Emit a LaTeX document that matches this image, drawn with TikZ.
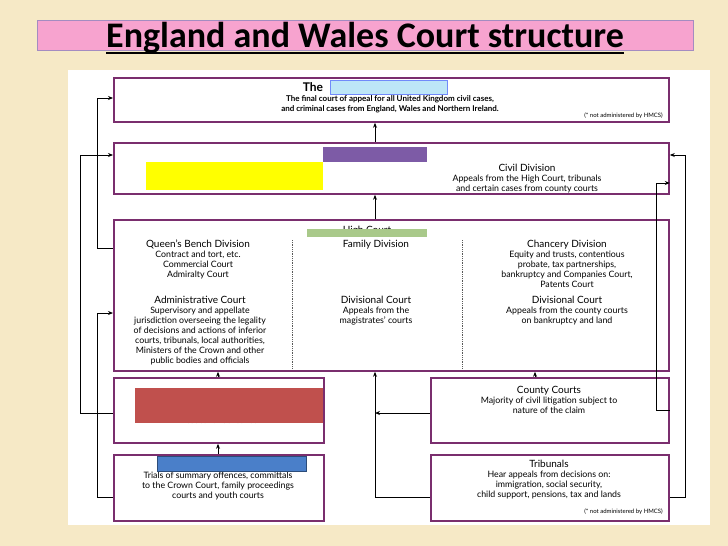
\documentclass[tikz,border=0pt]{standalone}
\usepackage{fontspec}
\setmainfont{Lato}
\newfontfamily\titlefont{Carlito}
\usetikzlibrary{arrows.meta}
\definecolor{bg}{HTML}{F6E9C6}
\definecolor{frame}{HTML}{7A2E6E}
\definecolor{pinkt}{HTML}{F7A3CF}
\definecolor{lblue}{HTML}{BDE6F7}
\definecolor{purp}{HTML}{7D5BA6}
\definecolor{yel}{HTML}{FFFF00}
\definecolor{grn}{HTML}{A9C98A}
\definecolor{redc}{HTML}{C0504D}
\definecolor{bluec}{HTML}{4A7FC9}
\tikzset{
 court/.style={draw=frame,line width=1.8pt,fill=white},
 txt/.style={font=\fontsize{8.8}{10}\selectfont,align=center,inner sep=0},
 conn/.style={line width=1pt,-{Stealth[length=5pt,width=4pt]}},
 cover/.style={inner sep=0,anchor=north west}
}
\begin{document}
\begin{tikzpicture}[x=1pt,y=-1pt]
\useasboundingbox (0,0) rectangle (728,546);
\fill[bg] (0,0) rectangle (728,546);
\fill[white] (68,70) rectangle (710,525);
% title
\node[draw=purp!70,fill=pinkt,minimum width=656,minimum height=30,anchor=north west,inner sep=0] (tbox) at (37,20) {};
\node[font=\titlefont\bfseries\fontsize{36}{36}\selectfont,inner sep=0] (title) at (365,38) {England and Wales Court structure};
\draw[line width=1.5pt] (title.south west |- 0,53) -- (title.south east |- 0,53);
% boxes
\node[court,minimum width=555,minimum height=44,anchor=north west] (sup) at (113,77) {};
\node[court,minimum width=555,minimum height=51,anchor=north west] (coa) at (113,142) {};
\node[court,minimum width=555,minimum height=151,anchor=north west] (hc) at (113,219) {};
\node[court,minimum width=210,minimum height=65,anchor=north west] (cc) at (113,377) {};
\node[court,minimum width=210,minimum height=66,anchor=north west] (mc) at (113,454) {};
\node[court,minimum width=238,minimum height=65,anchor=north west] (cty) at (430,377) {};
\node[court,minimum width=238,minimum height=66,anchor=north west] (trb) at (430,454) {};
\draw[densely dotted,line width=0.8pt,gray!70!black] (292,240) -- (292,369) (462,240) -- (462,369);
% supreme text
\node[txt,font=\bfseries\fontsize{12}{12}\selectfont] (the) at (313,87) {The};
\node[txt,font=\bfseries\fontsize{8}{9.6}\selectfont] (supt) at (390,104) {The final court of appeal for all United Kingdom civil cases,\\and criminal cases from England, Wales and Northern Ireland.};
\node[txt,font=\fontsize{6}{6}\selectfont,anchor=east] (supn) at (663,116) {(* not administered by HMCS)};
\node[fill=lblue,draw=lblue!60!blue,minimum width=117,minimum height=14,cover] (blue1) at (330,80) {};
% court of appeal
\node[txt] (civ) at (527,179) {{\fontsize{10}{11}\selectfont Civil Division}\\Appeals from the High Court, tribunals\\and certain cases from county courts};
\node[fill=purp,minimum width=104,minimum height=15,cover] (purp1) at (323,147) {};
\node[fill=yel,minimum width=177,minimum height=28,cover] (yel1) at (146,162) {};
% high court
\node[txt,font=\fontsize{10}{11}\selectfont] (hct) at (367,231) {High Court};
\node[fill=grn,minimum width=120,minimum height=8,cover] (grn1) at (307,229) {};
\node[txt,anchor=north] (qb) at (198,240) {{\fontsize{10}{11}\selectfont Queen's Bench Division}\\Contract and tort, etc.\\Commercial Court\\Admiralty Court};
\node[txt,anchor=north] (fam) at (376,240) {{\fontsize{10}{11}\selectfont Family Division}};
\node[txt,anchor=north] (ch) at (567,240) {{\fontsize{10}{11}\selectfont Chancery Division}\\Equity and trusts, contentious\\probate, tax partnerships,\\bankruptcy and Companies Court,\\Patents Court};
\node[txt,anchor=north] (adm) at (200,296) {{\fontsize{10}{11}\selectfont Administrative Court}\\Supervisory and appellate\\jurisdiction overseeing the legality\\of decisions and actions of inferior\\courts, tribunals, local authorities,\\Ministers of the Crown and other\\public bodies and officials};
\node[txt,anchor=north] (dv1) at (376,296) {{\fontsize{10}{11}\selectfont Divisional Court}\\Appeals from the\\magistrates' courts};
\node[txt,anchor=north] (dv2) at (567,296) {{\fontsize{10}{11}\selectfont Divisional Court}\\Appeals from the county courts\\on bankruptcy and land};
% crown court
\node[txt,anchor=north] (cct) at (222,397) {Trials of indictable offences, appeals\\from magistrates' courts and\\cases for sentence};
\node[fill=redc,minimum width=188,minimum height=35,cover] (red1) at (135,388) {};
% magistrates
\node[txt,anchor=north] (mct) at (218,461) {{\fontsize{10}{12}\selectfont Magistrates' Courts}\\Trials of summary offences, committals\\to the Crown Court, family proceedings\\courts and youth courts};
\node[fill=bluec,draw=bluec!60!black,minimum width=149,minimum height=15,cover] (blue2) at (157,456) {};
% county, tribunals
\node[txt,anchor=north] (ctyt) at (549,386) {{\fontsize{10}{11}\selectfont County Courts}\\Majority of civil litigation subject to\\nature of the claim};
\node[txt,anchor=north] (trbt) at (549,460) {{\fontsize{10}{11}\selectfont Tribunals}\\Hear appeals from decisions on:\\immigration, social security,\\child support, pensions, tax and lands};
\node[txt,font=\fontsize{6}{6}\selectfont,anchor=east] (trbn) at (663,512) {(* not administered by HMCS)};
% connectors
\coordinate (j1) at (375,413);
\draw[conn] (coa.north -| 375,0) -- (sup.south -| 375,0);
\draw[conn] (hc.north -| 375,0) -- (coa.south -| 375,0);
\draw[conn] (mc.north -| 218,0) -- (cc.south -| 218,0);
\draw[conn] (cc.north -| 218,0) -- (hc.south -| 218,0);
\draw[conn] (trb.west |- 0,497) -- (375,497) -- (hc.south -| 375,0);
\draw[conn] (cty.west |- 0,413) -- (j1);
\draw[conn] (cty.north -| 535,0) -- (hc.south -| 535,0);
\draw[conn] (hc.west |- 0,248) -- (97,248) -- (97,98) -- (sup.west |- 0,98);
\draw[conn] (cc.west |- 0,413) -- (80,413) -- (80,155) -- (coa.west |- 0,155);
\draw[conn] (mc.west |- 0,497) -- (97,497) -- (97,313) -- (hc.west |- 0,313);
\draw[conn] (cty.east |- 0,410) -- (656,410) -- (656,183) -- (coa.east |- 0,183);
\draw[conn] (trb.east |- 0,497) -- (685,497) -- (685,155) -- (coa.east |- 0,155);
\end{tikzpicture}
\end{document}
